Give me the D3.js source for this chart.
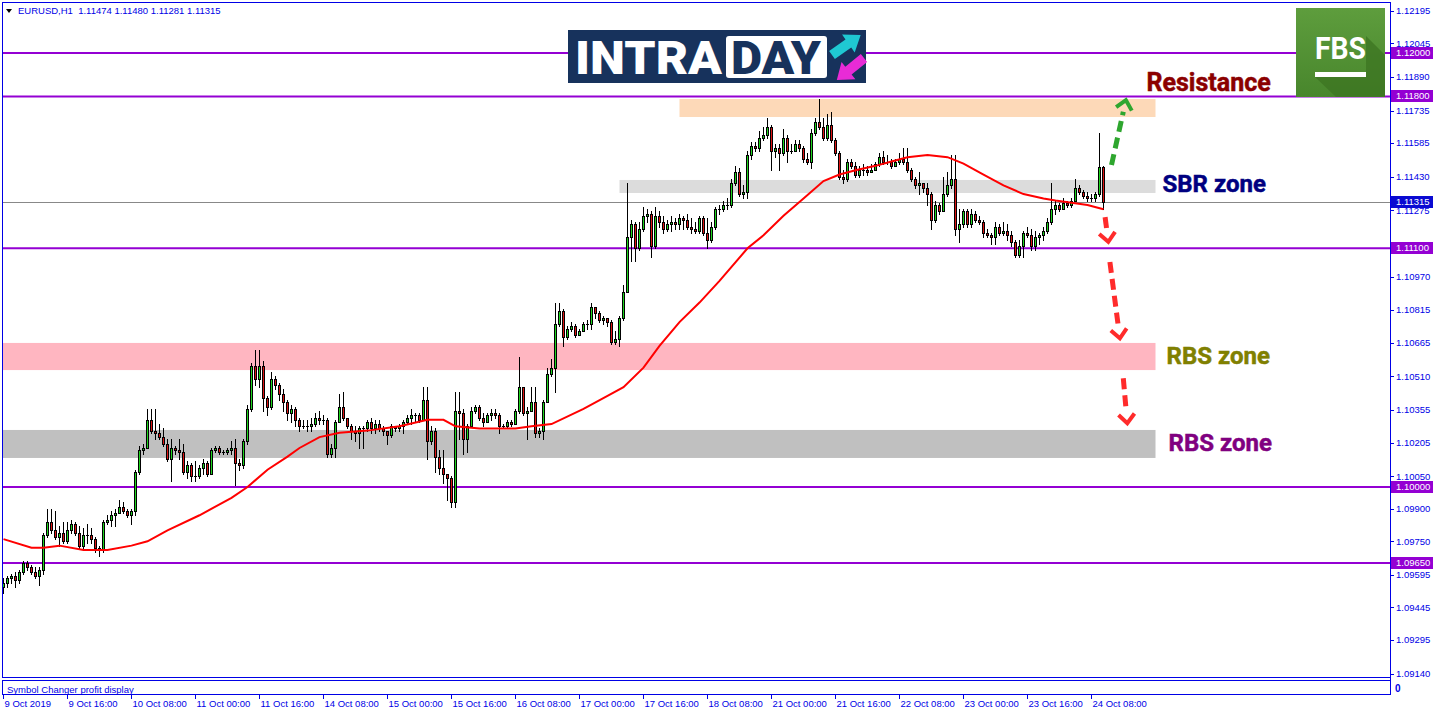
<!DOCTYPE html>
<html>
<head>
<meta charset="utf-8">
<script src="https://cdn.jsdelivr.net/npm/d3@7"></script>
<style>
  body { margin: 0; background: #fff; }
  svg { display: block; font-family: "Liberation Sans", Arial, sans-serif; }
</style>
</head>
<body>
<div id="chart"></div>
<script>
// EURUSD H1, 9 Oct 2019 00:00 -> 24 Oct 2019 11:00 (one value per hour bar)
const opens = [
  1.0954,1.0956,1.0958,1.0959,1.0957,1.0961,1.0965,1.0963,1.0961,1.0959,1.0962,1.0978,1.0984,1.0980,1.0977,1.0979,
  1.0975,1.0980,1.0983,1.0979,1.0973,1.0978,1.0978,1.0976,1.0972,1.0971,1.0984,1.0985,1.0987,1.0988,1.0991,1.0989,
  1.0987,1.0989,1.1007,1.1017,1.1018,1.1031,1.1026,1.1025,1.1023,1.1020,1.1013,1.1018,1.1017,1.1016,1.1007,1.1010,
  1.1005,1.1005,1.1009,1.1011,1.1006,1.1017,1.1018,1.1016,1.1016,1.1017,1.1018,1.1011,1.1010,1.1021,1.1036,1.1056,
  1.1050,1.1056,1.1041,1.1037,1.1050,1.1047,1.1043,1.1039,1.1034,1.1036,1.1031,1.1028,1.1028,1.1028,1.1029,1.1032,
  1.1031,1.1031,1.1015,1.1018,1.1030,1.1037,1.1032,1.1028,1.1026,1.1025,1.1027,1.1027,1.1030,1.1027,1.1029,1.1027,
  1.1026,1.1024,1.1028,1.1027,1.1028,1.1030,1.1032,1.1033,1.1033,1.1031,1.1040,1.1021,1.1026,1.1014,1.1009,1.1006,
  1.1004,1.0993,1.1035,1.1034,1.1022,1.1028,1.1035,1.1037,1.1032,1.1030,1.1033,1.1034,1.1033,1.1028,1.1028,1.1030,
  1.1029,1.1035,1.1046,1.1034,1.1035,1.1039,1.1025,1.1026,1.1039,1.1052,1.1055,1.1075,1.1081,1.1069,1.1073,1.1074,
  1.1070,1.1072,1.1075,1.1075,1.1083,1.1080,1.1077,1.1078,1.1076,1.1067,1.1068,1.1078,1.1090,1.1115,1.1121,1.1110,
  1.1119,1.1125,1.1126,1.1111,1.1125,1.1122,1.1119,1.1121,1.1122,1.1121,1.1124,1.1123,1.1120,1.1119,1.1118,1.1124,
  1.1117,1.1114,1.1120,1.1128,1.1128,1.1130,1.1130,1.1140,1.1145,1.1135,1.1136,1.1153,1.1157,1.1156,1.1161,1.1162,
  1.1166,1.1155,1.1156,1.1154,1.1161,1.1155,1.1155,1.1158,1.1156,1.1151,1.1150,1.1163,1.1168,1.1166,1.1161,1.1167,
  1.1160,1.1154,1.1143,1.1142,1.1150,1.1148,1.1144,1.1146,1.1146,1.1145,1.1146,1.1149,1.1152,1.1150,1.1150,1.1148,
  1.1150,1.1151,1.1150,1.1146,1.1142,1.1139,1.1140,1.1138,1.1135,1.1123,1.1130,1.1127,1.1135,1.1139,1.1142,1.1119,
  1.1121,1.1127,1.1121,1.1126,1.1123,1.1122,1.1117,1.1116,1.1115,1.1120,1.1117,1.1118,1.1116,1.1113,1.1107,1.1111,
  1.1117,1.1116,1.1111,1.1115,1.1116,1.1118,1.1122,1.1128,1.1130,1.1128,1.1131,1.1130,1.1132,1.1138,1.1136,1.1134,
  1.1133,1.1133,1.1135,1.11474
];
const highs = [
  1.0958,1.0959,1.0960,1.0961,1.0962,1.0966,1.0966,1.0964,1.0963,1.0963,1.0979,1.0990,1.0990,1.0989,1.0982,1.0984,
  1.0984,1.0985,1.0984,1.0982,1.0981,1.0983,1.0981,1.0977,1.0973,1.0985,1.0987,1.0989,1.0990,1.0994,1.0993,1.0990,
  1.0990,1.1008,1.1019,1.1020,1.1036,1.1036,1.1036,1.1029,1.1027,1.1022,1.1022,1.1019,1.1022,1.1020,1.1012,1.1011,
  1.1012,1.1010,1.1013,1.1012,1.1018,1.1019,1.1019,1.1017,1.1018,1.1021,1.1022,1.1013,1.1022,1.1038,1.1057,1.1063,
  1.1063,1.1058,1.1042,1.1053,1.1051,1.1048,1.1045,1.1040,1.1038,1.1037,1.1032,1.1031,1.1031,1.1032,1.1034,1.1035,
  1.1033,1.1032,1.1020,1.1031,1.1043,1.1044,1.1032,1.1029,1.1028,1.1028,1.1028,1.1031,1.1032,1.1031,1.1031,1.1028,
  1.1026,1.1029,1.1028,1.1029,1.1031,1.1033,1.1036,1.1034,1.1034,1.1046,1.1046,1.1028,1.1027,1.1017,1.1017,1.1006,
  1.1005,1.1044,1.1044,1.1036,1.1029,1.1037,1.1038,1.1038,1.1034,1.1034,1.1036,1.1036,1.1034,1.1029,1.1031,1.1031,
  1.1036,1.1060,1.1044,1.1037,1.1046,1.1046,1.1027,1.1040,1.1055,1.1059,1.1085,1.1085,1.1082,1.1074,1.1076,1.1075,
  1.1073,1.1076,1.1077,1.1085,1.1083,1.1081,1.1079,1.1078,1.1077,1.1072,1.1079,1.1093,1.1140,1.1123,1.1122,1.1122,
  1.1129,1.1128,1.1127,1.1129,1.1127,1.1125,1.1123,1.1125,1.1124,1.1126,1.1125,1.1126,1.1124,1.1122,1.1125,1.1125,
  1.1124,1.1122,1.1129,1.1130,1.1132,1.1133,1.1142,1.1148,1.1147,1.1139,1.1155,1.1159,1.1159,1.1164,1.1166,1.1170,
  1.1167,1.1158,1.1158,1.1165,1.1162,1.1158,1.1160,1.1160,1.1157,1.1154,1.1165,1.1170,1.1179,1.1170,1.1172,1.1173,
  1.1161,1.1155,1.1146,1.1151,1.1151,1.1150,1.1148,1.1149,1.1148,1.1149,1.1150,1.1154,1.1155,1.1153,1.1151,1.1151,
  1.1154,1.1156,1.1156,1.1147,1.1143,1.1145,1.1140,1.1140,1.1136,1.1132,1.1131,1.1143,1.1145,1.1153,1.1153,1.1128,
  1.1128,1.1128,1.1128,1.1127,1.1125,1.1123,1.1119,1.1117,1.1122,1.1121,1.1122,1.1121,1.1118,1.1114,1.1114,1.1118,
  1.1120,1.1119,1.1118,1.1117,1.1120,1.1124,1.1140,1.1132,1.1131,1.1133,1.1132,1.1133,1.1142,1.1139,1.1137,1.1136,
  1.1135,1.1136,1.1163,1.11480
];
const lows = [
  1.0951,1.0954,1.0956,1.0954,1.0956,1.0960,1.0962,1.0960,1.0958,1.0955,1.0960,1.0977,1.0979,1.0976,1.0973,1.0974,
  1.0974,1.0979,1.0978,1.0972,1.0972,1.0974,1.0974,1.0970,1.0968,1.0970,1.0983,1.0982,1.0982,1.0988,1.0988,1.0986,
  1.0983,1.0987,1.1006,1.1015,1.1018,1.1025,1.1022,1.1022,1.1019,1.1012,1.1003,1.1015,1.1013,1.1006,1.1004,1.1003,
  1.1003,1.1004,1.1006,1.1005,1.1006,1.1016,1.1015,1.1015,1.1015,1.1015,1.1001,1.1008,1.1009,1.1020,1.1035,1.1047,
  1.1046,1.1035,1.1033,1.1036,1.1045,1.1040,1.1035,1.1031,1.1030,1.1028,1.1026,1.1027,1.1026,1.1026,1.1028,1.1029,
  1.1029,1.1014,1.1014,1.1014,1.1030,1.1031,1.1027,1.1022,1.1021,1.1018,1.1018,1.1026,1.1025,1.1025,1.1026,1.1024,
  1.1020,1.1023,1.1026,1.1026,1.1025,1.1029,1.1029,1.1030,1.1030,1.1032,1.1013,1.1020,1.1007,1.1006,1.1002,1.0994,
  1.0991,1.0991,1.1022,1.1015,1.1016,1.1028,1.1034,1.1031,1.1028,1.1030,1.1031,1.1032,1.1025,1.1027,1.1027,1.1028,
  1.1029,1.1034,1.1033,1.1022,1.1035,1.1023,1.1023,1.1022,1.1039,1.1051,1.1044,1.1074,1.1065,1.1068,1.1072,1.1069,
  1.1070,1.1072,1.1073,1.1073,1.1078,1.1076,1.1075,1.1074,1.1066,1.1066,1.1065,1.1077,1.1090,1.1104,1.1104,1.1109,
  1.1118,1.1122,1.1106,1.1110,1.1120,1.1117,1.1118,1.1118,1.1119,1.1119,1.1119,1.1119,1.1117,1.1117,1.1117,1.1116,
  1.1110,1.1113,1.1119,1.1126,1.1127,1.1128,1.1129,1.1139,1.1134,1.1133,1.1133,1.1151,1.1155,1.1155,1.1160,1.1161,
  1.1146,1.1152,1.1146,1.1153,1.1150,1.1154,1.1155,1.1155,1.1150,1.1149,1.1147,1.1162,1.1165,1.1160,1.1160,1.1159,
  1.1153,1.1142,1.1140,1.1141,1.1147,1.1143,1.1143,1.1144,1.1144,1.1145,1.1146,1.1148,1.1149,1.1149,1.1147,1.1148,
  1.1149,1.1149,1.1145,1.1141,1.1138,1.1135,1.1136,1.1130,1.1119,1.1122,1.1126,1.1127,1.1134,1.1138,1.1116,1.1113,
  1.1120,1.1120,1.1120,1.1122,1.1121,1.1115,1.1115,1.1112,1.1112,1.1116,1.1116,1.1114,1.1111,1.1106,1.1106,1.1106,
  1.1115,1.1109,1.1109,1.1112,1.1114,1.1117,1.1121,1.1126,1.1127,1.1128,1.1129,1.1129,1.1132,1.1135,1.1133,1.1132,
  1.1132,1.1132,1.1134,1.11281
];
const closes = [
  1.0956,1.0958,1.0959,1.0957,1.0961,1.0965,1.0963,1.0961,1.0959,1.0962,1.0978,1.0984,1.0980,1.0977,1.0979,1.0975,
  1.0980,1.0983,1.0979,1.0973,1.0978,1.0978,1.0976,1.0972,1.0971,1.0984,1.0985,1.0987,1.0988,1.0991,1.0989,1.0987,
  1.0989,1.1007,1.1017,1.1018,1.1031,1.1026,1.1025,1.1023,1.1020,1.1013,1.1018,1.1017,1.1016,1.1007,1.1010,1.1005,
  1.1005,1.1009,1.1011,1.1006,1.1017,1.1018,1.1016,1.1016,1.1017,1.1018,1.1011,1.1010,1.1021,1.1036,1.1056,1.1050,
  1.1056,1.1041,1.1037,1.1050,1.1047,1.1043,1.1039,1.1034,1.1036,1.1031,1.1028,1.1028,1.1028,1.1029,1.1032,1.1031,
  1.1031,1.1015,1.1018,1.1030,1.1037,1.1032,1.1028,1.1026,1.1025,1.1027,1.1027,1.1030,1.1027,1.1029,1.1027,1.1026,
  1.1024,1.1028,1.1027,1.1028,1.1030,1.1032,1.1033,1.1033,1.1031,1.1040,1.1021,1.1026,1.1014,1.1009,1.1006,1.1004,
  1.0993,1.1035,1.1034,1.1022,1.1028,1.1035,1.1037,1.1032,1.1030,1.1033,1.1034,1.1033,1.1028,1.1028,1.1030,1.1029,
  1.1035,1.1046,1.1034,1.1035,1.1039,1.1025,1.1026,1.1039,1.1052,1.1055,1.1075,1.1081,1.1069,1.1073,1.1074,1.1070,
  1.1072,1.1075,1.1075,1.1083,1.1080,1.1077,1.1078,1.1076,1.1067,1.1068,1.1078,1.1090,1.1115,1.1121,1.1110,1.1119,
  1.1125,1.1126,1.1111,1.1125,1.1122,1.1119,1.1121,1.1122,1.1121,1.1124,1.1123,1.1120,1.1119,1.1118,1.1124,1.1117,
  1.1114,1.1120,1.1128,1.1128,1.1130,1.1130,1.1140,1.1145,1.1135,1.1136,1.1153,1.1157,1.1156,1.1161,1.1162,1.1166,
  1.1155,1.1156,1.1154,1.1161,1.1155,1.1155,1.1158,1.1156,1.1151,1.1150,1.1163,1.1168,1.1166,1.1161,1.1167,1.1160,
  1.1154,1.1143,1.1142,1.1150,1.1148,1.1144,1.1146,1.1146,1.1145,1.1146,1.1149,1.1152,1.1150,1.1150,1.1148,1.1150,
  1.1151,1.1150,1.1146,1.1142,1.1139,1.1140,1.1138,1.1135,1.1123,1.1130,1.1127,1.1135,1.1139,1.1142,1.1119,1.1121,
  1.1127,1.1121,1.1126,1.1123,1.1122,1.1117,1.1116,1.1115,1.1120,1.1117,1.1118,1.1116,1.1113,1.1107,1.1111,1.1117,
  1.1116,1.1111,1.1115,1.1116,1.1118,1.1122,1.1128,1.1130,1.1128,1.1131,1.1130,1.1132,1.1138,1.1136,1.1134,1.1133,
  1.1133,1.1135,1.11474,1.11315
];

// moving average (bar index, price)
const maIdx = [0,7,10,14,20,26,32,36,41,49,57,61,66,71,74,79,84,91,99,106,110,113,119,128,132,137,145,151,155,160,
  164,169,174,179,186,190,195,200,205,209,213,218,222,226,231,236,240,245,250,255,260,263,267,271,275];
const maVal = [1.0976,1.0972,1.0972,1.0973,1.0971,1.0971,1.0973,1.0975,1.0980,1.0987,1.0995,1.1000,1.1008,1.1014,1.1018,
  1.1023,1.1025,1.1026,1.1028,1.1031,1.1031,1.1028,1.1027,1.1027,1.1028,1.1029,1.1036,1.1042,1.1046,1.1055,
  1.1065,1.1076,1.1085,1.1095,1.1110,1.1116,1.1125,1.1133,1.1141,1.1144,1.1146,1.1148,1.1150,1.1152,1.1153,
  1.1152,1.1149,1.1144,1.1139,1.1135,1.1133,1.1132,1.1131,1.1130,1.1128];

// axis labels
const timeLabels = ["9 Oct 2019","9 Oct 16:00","10 Oct 08:00","11 Oct 00:00","11 Oct 16:00","14 Oct 08:00",
  "15 Oct 00:00","15 Oct 16:00","16 Oct 08:00","17 Oct 00:00","17 Oct 16:00","18 Oct 08:00","21 Oct 00:00",
  "21 Oct 16:00","22 Oct 08:00","23 Oct 00:00","23 Oct 16:00","24 Oct 08:00"];
const priceTicks = ["1.12195","1.12045","1.11890","1.11735","1.11585","1.11430","1.11275","1.11125","1.10970",
  "1.10815","1.10665","1.10510","1.10355","1.10205","1.10050","1.09900","1.09750","1.09595","1.09445","1.09295","1.09140"];

// horizontal levels and the current bid
const levels = [1.12000, 1.11800, 1.11100, 1.10000, 1.09650];
const lastPrice = 1.11315;

// zones
const zones = [
  { name: "resistance", from: 169, to: 288, lo: 1.11705, hi: 1.11788, fill: "#fdd9b8" },
  { name: "sbr", from: 154, to: 288, lo: 1.11355, hi: 1.11415, fill: "#dcdcdc" },
  { name: "rbs1", from: -1, to: 288, lo: 1.10539, hi: 1.10664, fill: "#ffb6c1" },
  { name: "rbs2", from: -1, to: 288, lo: 1.10134, hi: 1.10263, fill: "#c0c0c0" }
];
const zoneLabels = [
  { text: "Resistance", price: 1.11800, dy: -5, dx: -9, color: "#8b0000", size: 25 },
  { text: "SBR zone", price: 1.11385, dy: 6, dx: 7, color: "#000080", size: 24 },
  { text: "RBS zone", price: 1.10601, dy: 7, dx: 11, color: "#808000", size: 24 },
  { text: "RBS zone", price: 1.10198, dy: 6.5, dx: 13, color: "#800080", size: 24 }
];
// dashed forecast arrows: [bar, price] start -> tip
const arrows = [
  { from: [277.0, 1.11484], to: [280.6, 1.11783], color: "#2ea62e" },
  { from: [275.4, 1.11244], to: [276.2, 1.11130], color: "#ff2b2b" },
  { from: [276.6, 1.11037], to: [279.1, 1.10685], color: "#ff2b2b" },
  { from: [279.95, 1.10501], to: [280.95, 1.10294], color: "#ff2b2b" }
];

const W = 1436, H = 716;
const plotL = 3, plotT = 3, plotR = 1390, plotB = 677;
const subT = 680.5, axisY = 694.5;
const axisBlue = "#0000e6";

const svg = d3.select("#chart").append("svg").attr("width", W).attr("height", H);
const defs = svg.append("defs");

const xScale = d3.scaleLinear().domain([0, 275]).range([3.5, 1103.5]);
const yScale = d3.scaleLinear().domain([1.0965, 1.12]).range([563, 53]);

defs.append("clipPath").attr("id", "plot")
  .append("rect").attr("x", plotL).attr("y", plotT).attr("width", plotR - plotL).attr("height", plotB - plotT);

const plot = svg.append("g").attr("clip-path", "url(#plot)");

// zones
plot.selectAll("rect.zone").data(zones).enter().append("rect")
  .attr("class", "zone")
  .attr("x", d => xScale(d.from))
  .attr("width", d => xScale(d.to) - xScale(d.from))
  .attr("y", d => yScale(d.hi))
  .attr("height", d => yScale(d.lo) - yScale(d.hi))
  .attr("fill", d => d.fill);

// horizontal lines
plot.selectAll("line.level").data(levels).enter().append("line")
  .attr("class", "level")
  .attr("x1", plotL).attr("x2", plotR)
  .attr("y1", d => yScale(d)).attr("y2", d => yScale(d))
  .attr("stroke", "#9400d3").attr("stroke-width", 2);

plot.append("line")
  .attr("x1", plotL).attr("x2", plotR)
  .attr("y1", Math.round(yScale(lastPrice)) + 0.5).attr("y2", Math.round(yScale(lastPrice)) + 0.5)
  .attr("stroke", "#888").attr("stroke-width", 1);

// candles
const bars = d3.range(closes.length).map(i => ({ i, o: opens[i], h: highs[i], l: lows[i], c: closes[i] }));
const cg = plot.append("g").attr("shape-rendering", "crispEdges");
bars.forEach(d => {
  const cx = xScale(d.i);
  const yT = Math.round(yScale(Math.max(d.o, d.c)));
  const yB = Math.round(yScale(Math.min(d.o, d.c)));
  const yH = Math.round(yScale(Math.max(d.h, d.o, d.c)));
  const yL = Math.round(yScale(Math.min(d.l, d.o, d.c)));
  cg.append("rect").attr("x", cx - 0.5).attr("y", yH).attr("width", 1).attr("height", yL - yH + 1).attr("fill", "#000");
  if (yB - yT < 1) {
    cg.append("rect").attr("x", cx - 1.5).attr("y", yT).attr("width", 3).attr("height", 1).attr("fill", "#000");
  } else {
    cg.append("rect").attr("x", cx - 1.5).attr("y", yT).attr("width", 3).attr("height", yB - yT + 1).attr("fill", "#000");
    if (yB - yT > 1) {
      cg.append("rect").attr("x", cx - 0.5).attr("y", yT + 1).attr("width", 1).attr("height", yB - yT - 1)
        .attr("fill", d.c >= d.o ? "#1ed41e" : "#dc1414");
    }
  }
});

// moving average
const ma = maIdx.map((d, k) => [d, maVal[k]]);
plot.append("path")
  .datum(ma)
  .attr("d", d3.line().x(d => xScale(d[0])).y(d => yScale(d[1])))
  .attr("fill", "none").attr("stroke", "#ff0000").attr("stroke-width", 2);

// arrows
const ag = svg.append("g");
arrows.forEach(a => {
  const x1 = xScale(a.from[0]), y1 = yScale(a.from[1]);
  const x2 = xScale(a.to[0]), y2 = yScale(a.to[1]);
  const ang = Math.atan2(y2 - y1, x2 - x1);
  const ux = Math.cos(ang), uy = Math.sin(ang), px = -uy, py = ux;
  ag.append("line")
    .attr("x1", x1).attr("y1", y1)
    .attr("x2", x2 - ux * 12).attr("y2", y2 - uy * 12)
    .attr("stroke", a.color).attr("stroke-width", 5).attr("stroke-dasharray", "11,6");
  const bx = x2 - ux * 9, by = y2 - uy * 9;
  ag.append("path")
    .attr("d", `M${bx + px * 8},${by + py * 8}L${x2},${y2}L${bx - px * 8},${by - py * 8}`)
    .attr("fill", "none").attr("stroke", a.color).attr("stroke-width", 4)
    .attr("stroke-linejoin", "miter").attr("stroke-miterlimit", 10);
});

// zone labels
svg.selectAll("text.zl").data(zoneLabels).enter().append("text")
  .attr("class", "zl")
  .attr("x", d => xScale(288) + d.dx)
  .attr("y", d => yScale(d.price) + d.dy)
  .attr("font-family", "Roboto, sans-serif").attr("font-weight", 700)
  .attr("font-size", d => d.size)
  .attr("fill", d => d.color)
  .attr("stroke", d => d.color).attr("stroke-width", 0.5)
  .text(d => d.text);

// INTRADAY logo
const logo = svg.append("g");
logo.append("rect").attr("x", 568).attr("y", 30).attr("width", 298).attr("height", 53).attr("fill", "#17325c");
logo.append("text").attr("x", 575).attr("y", 74)
  .attr("font-family", "Roboto, sans-serif").attr("font-weight", 900).attr("font-size", 46)
  .attr("textLength", 147).attr("lengthAdjust", "spacingAndGlyphs")
  .attr("fill", "#fff").text("INTRA");
logo.append("rect").attr("x", 726).attr("y", 36).attr("width", 101).attr("height", 42).attr("rx", 3).attr("fill", "#fff");
logo.append("text").attr("x", 731).attr("y", 74)
  .attr("font-family", "Roboto, sans-serif").attr("font-weight", 900).attr("font-size", 46)
  .attr("textLength", 90).attr("lengthAdjust", "spacingAndGlyphs")
  .attr("fill", "#17325c").text("DAY");
const arrowShape = "M0,-5L20,-5L20,-11L35,0L20,11L20,5L0,5Z";
logo.append("path").attr("d", arrowShape).attr("fill", "#1fc8d2")
  .attr("transform", "translate(832,55) rotate(-35)");
logo.append("path").attr("d", arrowShape).attr("fill", "#e82bd6")
  .attr("transform", "translate(864,58) rotate(141)");

// FBS logo
const grad = defs.append("linearGradient").attr("id", "fbsg")
  .attr("x1", 0).attr("y1", 0).attr("x2", 0).attr("y2", 1);
grad.append("stop").attr("offset", 0).attr("stop-color", "#5e9d3d");
grad.append("stop").attr("offset", 1).attr("stop-color", "#48862c");
const fbs = svg.append("g");
fbs.append("rect").attr("x", 1296).attr("y", 8).attr("width", 89).attr("height", 89).attr("fill", "url(#fbsg)");
fbs.append("path").attr("d", "M1366,36L1385,55L1385,97L1336,97L1315,77L1366,77Z").attr("fill", "#3c7422").attr("opacity", 0.75);
fbs.append("text").attr("x", 1315).attr("y", 59)
  .attr("font-family", "Roboto, sans-serif").attr("font-weight", 700).attr("font-size", 32)
  .attr("textLength", 51).attr("lengthAdjust", "spacingAndGlyphs")
  .attr("fill", "#fff").text("FBS");
fbs.append("rect").attr("x", 1315).attr("y", 72).attr("width", 51).attr("height", 5).attr("fill", "#fff");

// frame: main window, indicator sub window, time axis
const frame = svg.append("g").attr("shape-rendering", "crispEdges").attr("fill", "none").attr("stroke", axisBlue);
frame.append("path").attr("d", `M2.5,${plotB + 0.5}V2.5H${plotR + 0.5}V${axisY}`);
frame.append("path").attr("d", `M2.5,${plotB + 0.5}H${plotR + 0.5}`);
frame.append("path").attr("d", `M2.5,${axisY}V${subT}H${plotR + 0.5}`);
frame.append("path").attr("d", `M2.5,${axisY}H${plotR + 0.5}`);

// header
svg.append("path").attr("d", "M6,9L12,9L9,13Z").attr("fill", "#000");
svg.append("text").attr("x", 18).attr("y", 14).attr("font-size", 9.5).attr("fill", axisBlue)
  .attr("xml:space", "preserve")
  .text("EURUSD,H1  1.11474 1.11480 1.11281 1.11315");

// sub window caption
svg.append("text").attr("x", 7).attr("y", 693).attr("font-size", 9.5).attr("fill", axisBlue)
  .text("Symbol Changer profit display");
svg.append("text").attr("x", 1395).attr("y", 692).attr("font-size", 10).attr("font-weight", 700).attr("fill", axisBlue).text("0");

// price axis
const boxes = levels.map(v => ({ v, fill: "#9400d3" })).concat([{ v: lastPrice, fill: "#0a0ad2" }]);
const pa = svg.append("g");
priceTicks.forEach(t => {
  const y = yScale(+t);
  pa.append("line").attr("x1", plotR).attr("x2", plotR + 4).attr("y1", Math.round(y) + 0.5).attr("y2", Math.round(y) + 0.5)
    .attr("stroke", axisBlue).attr("shape-rendering", "crispEdges");
  // a label sitting under a level box is hidden by it
  if (boxes.some(b => Math.abs(yScale(b.v) - y) < 7)) return;
  pa.append("text").attr("x", 1396).attr("y", y).attr("dy", "0.35em")
    .attr("font-size", 9.5).attr("fill", axisBlue).text(t);
});
boxes.forEach(b => {
  const y = Math.round(yScale(b.v));
  pa.append("rect").attr("x", 1391).attr("y", y - 6).attr("width", 42).attr("height", 12).attr("fill", b.fill);
  pa.append("text").attr("x", 1396).attr("y", y).attr("dy", "0.36em")
    .attr("font-size", 9.5).attr("fill", "#fff").text(b.v.toFixed(5));
});

// time axis
const ta = svg.append("g");
timeLabels.forEach((t, k) => {
  const x = Math.floor(xScale(k * 16)) + 0.5;
  ta.append("line").attr("x1", x).attr("x2", x).attr("y1", axisY).attr("y2", axisY + 4)
    .attr("stroke", axisBlue).attr("shape-rendering", "crispEdges");
  ta.append("text").attr("x", x + 1).attr("y", 707).attr("font-size", 9.5).attr("fill", axisBlue).text(t);
});
</script>
</body>
</html>
